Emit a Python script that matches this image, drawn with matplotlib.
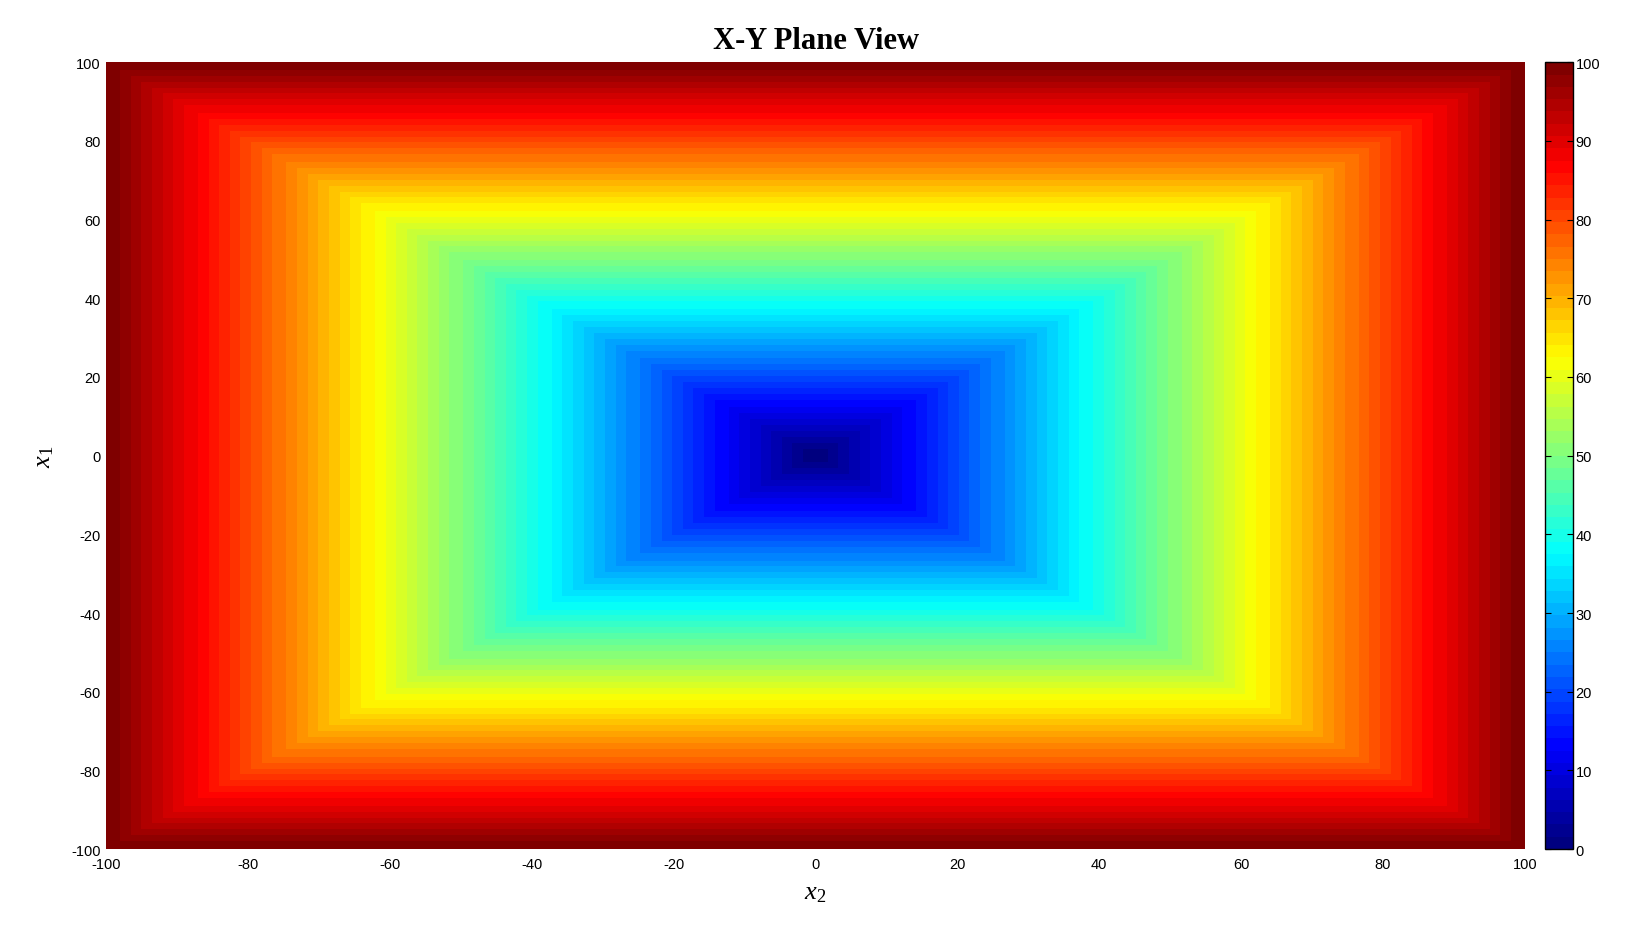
import matplotlib
matplotlib.use("Agg")
import matplotlib.pyplot as plt
import numpy as np
from matplotlib.colors import LinearSegmentedColormap

plt.rcParams["font.family"] = ["Liberation Sans", "DejaVu Sans"]
plt.rcParams["mathtext.fontset"] = "custom"
plt.rcParams["mathtext.rm"] = "Liberation Serif"
plt.rcParams["mathtext.it"] = "Liberation Serif:italic"
plt.rcParams["axes.unicode_minus"] = False

# grid of the plane (x2 across, x1 up) and the plotted surface value
x2 = np.linspace(-100, 100, 401)
x1 = np.linspace(-100, 100, 401)
X2, X1 = np.meshgrid(x2, x1)
Z = np.maximum(np.abs(X1), np.abs(X2))  # value shown by colour

xticks = [-100, -80, -60, -40, -20, 0, 20, 40, 60, 80, 100]
yticks = [-100, -80, -60, -40, -20, 0, 20, 40, 60, 80, 100]
cticks = [0, 10, 20, 30, 40, 50, 60, 70, 80, 90, 100]

# MATLAB-style jet, 64 levels
jet_ml = LinearSegmentedColormap.from_list(
    "jet_ml",
    [(0.0, (0, 0, 0.5)), (1 / 8, (0, 0, 1)), (3 / 8, (0, 1, 1)),
     (5 / 8, (1, 1, 0)), (7 / 8, (1, 0, 0)), (1.0, (0.5, 0, 0))],
    N=64,
)

fig = plt.figure(figsize=(16.32, 9.45), dpi=100)
ax = fig.add_axes([0.0650, 0.1005, 0.8694, 0.8325])
cax = fig.add_axes([0.9467, 0.1005, 0.0170, 0.8325])

im = ax.imshow(Z, extent=[x2[0], x2[-1], x1[0], x1[-1]], origin="lower",
               cmap=jet_ml, vmin=0, vmax=100, aspect="auto", interpolation="nearest")

ax.set_xlim(-100, 100)
ax.set_ylim(-100, 100)
ax.set_xticks(xticks)
ax.set_yticks(yticks)
ax.tick_params(length=0, labelsize=10.5)
ax.tick_params(axis="x", pad=6)
ax.tick_params(axis="y", pad=4)
for s in ax.spines.values():
    s.set_visible(False)

ax.set_title("X-Y Plane View", fontsize=22, fontweight="bold",
             family="Liberation Serif", pad=10)
ax.set_xlabel("$x_2$", fontsize=19, labelpad=6)
ax.set_ylabel("$x_1$", fontsize=19, labelpad=11)

cb = fig.colorbar(im, cax=cax, ticks=cticks)
cb.outline.set_linewidth(1.0)
cax.tick_params(direction="in", left=True, right=True, length=4,
                labelsize=10.5, pad=2)

fig.savefig("out.png", dpi=100)
